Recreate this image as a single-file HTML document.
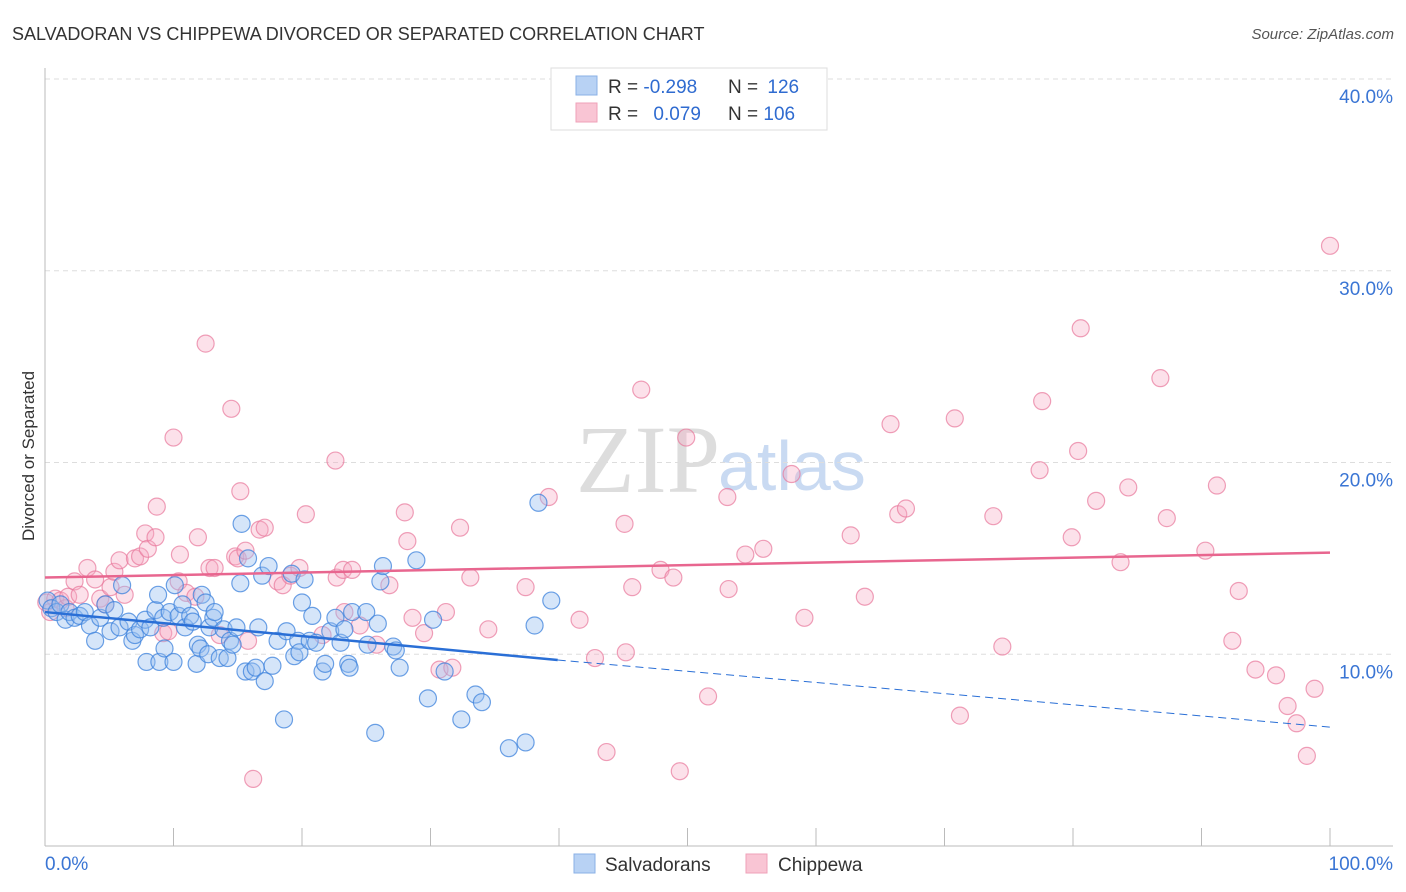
<!DOCTYPE html>
<html><head><meta charset="utf-8"><style>
body{margin:0;background:#fff;width:1406px;height:892px;overflow:hidden;font-family:"Liberation Sans",sans-serif}
svg{display:block}
</style></head><body>
<svg id="chart" width="1406" height="892">
<text x="12" y="40" font-size="18" fill="#333">SALVADORAN VS CHIPPEWA DIVORCED OR SEPARATED CORRELATION CHART</text>
<text x="1394" y="39" font-size="15" fill="#555" font-style="italic" text-anchor="end">Source: ZipAtlas.com</text>
<text transform="translate(34,456) rotate(-90)" font-size="17" fill="#333" text-anchor="middle">Divorced or Separated</text>
<text x="720" y="492" font-size="96" fill="#ddd" text-anchor="end" font-family="Liberation Serif">ZIP</text>
<text x="718" y="490" font-size="70" fill="#c9daf2">atlas</text>
<g id="grid"></g><g id="axes"></g><g id="pts"></g><g id="trend"></g>
<g>
<rect x="551" y="68" width="276" height="62" fill="#fff" stroke="#ddd"/>
<rect x="576" y="76" width="21" height="19" fill="#b8d2f4" stroke="#8ab0e6"/>
<rect x="576" y="103" width="21" height="19" fill="#f9c5d4" stroke="#efa1b8"/>
<text x="608" y="93" font-size="19" fill="#333">R = <tspan fill="#2f6bd0">-0.298</tspan></text>
<text x="728" y="93" font-size="19" fill="#333">N = <tspan fill="#2f6bd0" dx="4">126</tspan></text>
<text x="608" y="120" font-size="19" fill="#333">R = <tspan fill="#2f6bd0" dx="10">0.079</tspan></text>
<text x="728" y="120" font-size="19" fill="#333">N = <tspan fill="#2f6bd0">106</tspan></text>
</g>
<g>
<rect x="574" y="854" width="21" height="19" fill="#b8d2f4" stroke="#8ab0e6"/>
<text x="605" y="871" font-size="19" fill="#333">Salvadorans</text>
<rect x="746" y="854" width="21" height="19" fill="#f9c5d4" stroke="#efa1b8"/>
<text x="778" y="871" font-size="19" fill="#333">Chippewa</text>
</g>
</svg>
<script>
const yTicks=[10,20,30,40];
const xTickLabels=["0.0%","100.0%"];
const blueX=[0.2,0.5,0.9,1.2,1.6,1.9,2.3,2.7,3.1,3.5,3.9,4.3,4.7,5.1,5.4,5.8,6.0,6.5,6.8,7.0,7.4,7.8,7.9,8.2,8.6,8.8,8.9,9.2,9.3,9.7,10.0,10.1,10.4,10.7,10.9,11.3,11.5,11.8,11.9,12.1,12.2,12.5,12.7,12.8,13.1,13.2,13.6,13.9,14.2,14.4,14.6,14.9,15.2,15.3,15.6,15.8,16.1,16.4,16.6,16.9,17.1,17.4,17.7,18.1,18.6,18.8,19.2,19.4,19.7,19.8,20.0,20.2,20.6,20.8,21.1,21.6,21.8,22.2,22.6,23.0,23.3,23.6,23.7,23.9,25.0,25.1,25.7,25.9,26.1,26.3,27.1,27.3,27.6,28.9,29.8,30.2,31.1,32.4,33.5,34.0,36.1,37.4,38.1,38.4,39.4];
const blueY=[12.8,12.4,12.2,12.6,11.8,12.2,11.9,12.0,12.2,11.5,10.7,11.9,12.6,11.2,12.3,11.4,13.6,11.7,10.7,11.0,11.3,11.8,9.6,11.4,12.3,13.1,9.6,11.9,10.3,12.2,9.6,13.6,12.0,12.6,11.4,12.0,11.7,9.5,10.5,10.3,13.1,12.7,10.0,11.4,11.9,12.2,9.8,11.3,9.8,10.7,10.5,11.4,13.7,16.8,9.1,15.0,9.1,9.3,11.4,14.1,8.6,14.6,9.4,10.7,6.6,11.2,14.2,9.9,10.7,10.1,12.7,13.9,10.7,12.0,10.6,9.1,9.5,11.2,11.9,10.6,11.3,9.5,9.3,12.2,12.2,10.5,5.9,11.6,13.8,14.6,10.4,10.2,9.3,14.9,7.7,11.8,9.1,6.6,7.9,7.5,5.1,5.4,11.5,17.9,12.8];
const pinkX=[0.1,0.4,0.8,1.2,1.6,1.8,2.3,2.7,3.3,3.9,4.3,4.7,5.1,5.4,5.8,6.2,7.0,7.4,7.8,8.0,8.6,8.7,9.2,9.6,10.0,10.4,10.5,11.0,11.7,11.9,12.5,12.8,13.2,13.6,14.5,14.8,15.0,15.2,15.6,15.8,16.2,16.7,17.1,18.1,18.5,19.1,19.8,20.3,21.6,22.6,22.7,23.2,23.3,23.9,24.5,25.8,26.8,28.0,28.2,28.6,29.5,30.7,31.2,31.7,32.3,33.1,34.5,37.4,39.2,41.6,42.8,43.7,45.1,45.2,45.7,46.4,47.9,48.9,49.4,49.9,51.6,53.1,53.2,54.5,55.9,58.1,59.1,62.7,63.8,65.8,66.4,67.0,70.8,71.2,73.8,74.5,77.4,77.6,79.9,80.4,80.6,81.8,83.7,84.3,86.8,87.3,90.3,91.2,92.4,92.9,94.2,95.8,96.7,97.4,98.2,98.8,100];
const pinkY=[12.7,12.2,12.9,12.8,12.4,13.0,13.8,13.1,14.5,13.9,12.9,12.6,13.5,14.3,14.9,13.1,15.0,15.1,16.3,15.5,16.1,17.7,11.1,11.2,21.3,13.8,15.2,13.2,13.0,16.1,26.2,14.5,14.5,11.0,22.8,15.1,15.0,18.5,15.4,10.7,3.5,16.5,16.6,13.8,13.6,14.1,14.5,17.3,11.0,20.1,14.0,14.4,12.2,14.4,11.5,10.5,13.6,17.4,15.9,11.9,11.1,9.2,12.2,9.3,16.6,14.0,11.3,13.5,18.2,11.8,9.8,4.9,16.8,10.1,13.5,23.8,14.4,14.0,3.9,21.3,7.8,18.2,13.4,15.2,15.5,19.4,11.9,16.2,13.0,22.0,17.3,17.6,22.3,6.8,17.2,10.4,19.6,23.2,16.1,20.6,27.0,18.0,14.8,18.7,24.4,17.1,15.4,18.8,10.7,13.3,9.2,8.9,7.3,6.4,4.7,8.2,31.3];
const blueTrend=[12.2,9.7,6.2];const blueTrendX=[0,39.9,100];
const pinkTrend=[14.0,15.3];const pinkTrendX=[0,100];

const NS="http://www.w3.org/2000/svg";
const X0=45,X1=1330,Y0=846,Y40=79;
const xs=v=>X0+(X1-X0)*v/100;
const ys=v=>Y0-(Y0-Y40)*v/40;
function mk(tag,attrs,parent){const e=document.createElementNS(NS,tag);for(const k in attrs)e.setAttribute(k,attrs[k]);document.getElementById(parent).appendChild(e);return e;}
yTicks.forEach(t=>{
  const l=mk('line',{x1:45,x2:1393,y1:ys(t),y2:ys(t),stroke:'#ddd','stroke-dasharray':'5,4'},'grid');
  
  
  const tx=mk('text',{x:1393,y:ys(t)+24,'font-size':19,fill:'#3a75d4','text-anchor':'end'},'grid');
  tx.textContent=t.toFixed(1)+'%';
  
  
});
const ax=mk('line',{x1:45,x2:45,y1:68,y2:846,stroke:'#bbb'},'axes');


const bx=mk('line',{x1:45,x2:1393,y1:846,y2:846,stroke:'#bbb'},'axes');


for(let i=1;i<=10;i++){
  const t=mk('line',{x1:xs(i*10),x2:xs(i*10),y1:828,y2:846,stroke:'#bbb'},'axes');
  
  
}
[[0,'start'],[100,'end']].forEach((p,i)=>{
  const t=mk('text',{x:i?1393:45,y:870,'font-size':19,fill:'#3a75d4','text-anchor':p[1]},'axes');
  t.textContent=xTickLabels[i];
  
  
});
pinkX.forEach((v,i)=>{
  const c=mk('circle',{cx:xs(v),cy:ys(pinkY[i]),r:8.5,fill:'rgba(246,170,194,0.35)',stroke:'rgba(232,120,155,0.7)','stroke-width':1.2},'pts');
  
  
});
blueX.forEach((v,i)=>{
  const c=mk('circle',{cx:xs(v),cy:ys(blueY[i]),r:8.5,fill:'rgba(150,190,240,0.4)',stroke:'rgba(60,130,220,0.75)','stroke-width':1.2},'pts');
  
  
});
const pl=mk('line',{x1:xs(pinkTrendX[0]),y1:ys(pinkTrend[0]),x2:xs(pinkTrendX[1]),y2:ys(pinkTrend[1]),stroke:'#e8668f','stroke-width':2.5},'trend');


const bl=mk('line',{x1:xs(blueTrendX[0]),y1:ys(blueTrend[0]),x2:xs(blueTrendX[1]),y2:ys(blueTrend[1]),stroke:'#2a6fd6','stroke-width':2.5},'trend');


const bd=mk('line',{x1:xs(blueTrendX[1]),y1:ys(blueTrend[1]),x2:xs(blueTrendX[2]),y2:ys(blueTrend[2]),stroke:'#2a6fd6','stroke-width':1,'stroke-dasharray':'8,5'},'trend');


</script>
</body></html>
